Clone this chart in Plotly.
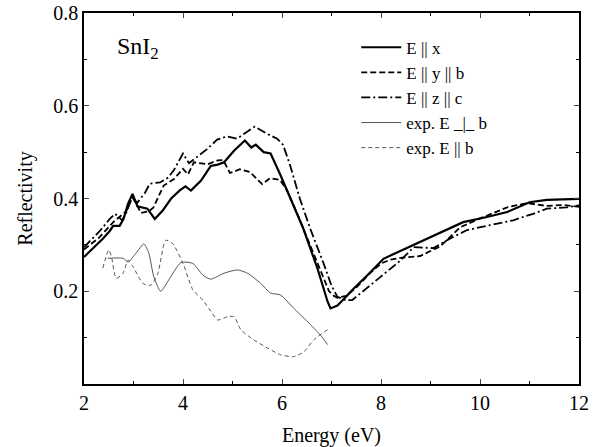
import plotly.graph_objects as go

# E || x (theory, solid)
ex_x = [2.0, 2.18, 2.38, 2.52, 2.59, 2.72, 2.8, 2.89, 2.98, 3.08, 3.28, 3.43, 3.59, 3.76, 3.94, 4.05,
        4.16, 4.36, 4.56, 4.7, 4.83, 5.03, 5.25, 5.38, 5.47, 5.63, 5.77, 5.97, 6.17, 6.42, 6.72, 6.92,
        6.98, 7.12, 7.22, 7.44, 7.72, 8.05, 8.39, 8.79, 9.2, 9.66, 10.14, 10.55, 11.0, 11.35, 12.0]
ex_y = [0.274, 0.292, 0.313, 0.33, 0.341, 0.341, 0.356, 0.389, 0.41, 0.383, 0.378, 0.356, 0.374, 0.4,
        0.418, 0.426, 0.417, 0.438, 0.47, 0.473, 0.478, 0.503, 0.525, 0.51, 0.516, 0.5, 0.497, 0.45,
        0.40, 0.338, 0.248, 0.178, 0.163, 0.169, 0.18, 0.205, 0.234, 0.27, 0.287, 0.306, 0.327, 0.349,
        0.36, 0.371, 0.392, 0.397, 0.399]

# E || y || b (theory, dashed)
ey_x = [2.0, 2.3, 2.6, 2.85, 2.98, 3.05, 3.15, 3.3, 3.4, 3.61, 3.82, 4.0, 4.1, 4.22, 4.5, 4.7, 4.81,
        4.95, 5.15, 5.35, 5.6, 5.76, 5.96, 6.1, 6.3, 6.5, 6.75, 6.95, 7.05, 7.12, 7.3, 7.52, 7.79, 8.0,
        8.19, 8.39, 8.79, 9.2, 9.6, 10.0, 10.55, 10.95, 11.35, 11.7, 12.0]
ey_y = [0.29, 0.315, 0.35, 0.372, 0.402, 0.39, 0.369, 0.372, 0.38, 0.428, 0.442, 0.464, 0.452, 0.478,
        0.474, 0.482, 0.483, 0.455, 0.463, 0.457, 0.431, 0.444, 0.44, 0.418, 0.369, 0.317, 0.255, 0.2,
        0.19, 0.186, 0.19, 0.21, 0.24, 0.26, 0.268, 0.272, 0.276, 0.297, 0.338, 0.357, 0.381, 0.39,
        0.384, 0.386, 0.382]

# E || z || c (theory, dash-dot)
ez_x = [2.0, 2.32, 2.52, 2.63, 2.77, 2.87, 2.97, 3.07, 3.23, 3.33, 3.54, 3.7, 3.82, 4.0, 4.12, 4.3,
        4.48, 4.69, 4.89, 5.09, 5.29, 5.45, 5.69, 5.9, 6.02, 6.16, 6.36, 6.57, 6.84, 7.0, 7.12, 7.28,
        7.42, 7.65, 7.99, 8.39, 8.66, 9.06, 9.4, 9.74, 10.2, 10.67, 11.07, 11.35, 11.75, 12.0]
ez_y = [0.295, 0.33, 0.356, 0.367, 0.353, 0.373, 0.405, 0.39, 0.412, 0.432, 0.435, 0.445, 0.462, 0.497,
        0.476, 0.49, 0.506, 0.527, 0.534, 0.529, 0.544, 0.555, 0.54, 0.529, 0.516, 0.473, 0.4, 0.335,
        0.26, 0.212, 0.188, 0.181, 0.181, 0.202, 0.231, 0.266, 0.295, 0.293, 0.314, 0.332, 0.342,
        0.353, 0.367, 0.378, 0.381, 0.385]

# exp. E _|_ b (thin solid)
pe_x = [2.48, 2.79, 2.89, 3.05, 3.21, 3.31, 3.41, 3.55, 3.71, 3.96, 4.2, 4.4, 4.56, 4.83, 5.1, 5.3,
        5.57, 5.77, 5.97, 6.23, 6.52, 6.78, 6.92]
pe_y = [0.271, 0.271, 0.263, 0.282, 0.302, 0.282, 0.231, 0.2, 0.224, 0.262, 0.26, 0.235, 0.226, 0.239,
        0.246, 0.239, 0.217, 0.196, 0.192, 0.164, 0.134, 0.105, 0.085]

# exp. E || b (thin dashed)
pb_x = [2.38, 2.5, 2.56, 2.65, 2.79, 2.89, 2.99, 3.19, 3.35, 3.49, 3.65, 3.79, 4.0, 4.2, 4.4, 4.56,
        4.7, 4.9, 5.03, 5.17, 5.43, 5.7, 5.97, 6.23, 6.44, 6.64, 6.92]
pb_y = [0.25, 0.289, 0.272, 0.228, 0.239, 0.267, 0.253, 0.217, 0.213, 0.238, 0.31, 0.303, 0.26, 0.203,
        0.181, 0.157, 0.138, 0.145, 0.145, 0.117, 0.095, 0.078, 0.063, 0.059, 0.069, 0.095, 0.117]

x_ticks = [2, 4, 6, 8, 10, 12]
y_ticks = [0.2, 0.4, 0.6, 0.8]
y_labels = ["0.2", "0.4", "0.6", "0.8"]

FONT = "Liberation Serif, Times New Roman, serif"

fig = go.Figure()
fig.add_trace(go.Scatter(x=ex_x, y=ex_y, mode="lines", name="E || x",
                         line=dict(color="black", width=2.2)))
fig.add_trace(go.Scatter(x=ey_x, y=ey_y, mode="lines", name="E || y || b",
                         line=dict(color="black", width=1.8, dash="6px,3px")))
fig.add_trace(go.Scatter(x=ez_x, y=ez_y, mode="lines", name="E || z || c",
                         line=dict(color="black", width=1.8, dash="9px,3px,2px,3px")))
fig.add_trace(go.Scatter(x=pe_x, y=pe_y, mode="lines", name="exp. E _|_ b",
                         line=dict(color="#555555", width=1, shape="spline", smoothing=0.6)))
fig.add_trace(go.Scatter(x=pb_x, y=pb_y, mode="lines", name="exp. E || b",
                         line=dict(color="#555555", width=1, dash="4px,3px", shape="spline", smoothing=0.6)))

fig.add_annotation(text="SnI<sub>2</sub>", xref="paper", yref="paper", x=0.062, y=0.905,
                   xanchor="left", yanchor="middle", showarrow=False,
                   font=dict(family=FONT, size=24, color="black"))

fig.update_layout(
    width=599, height=447,
    margin=dict(l=84, r=20, t=13, b=63),
    paper_bgcolor="white", plot_bgcolor="white",
    font=dict(family=FONT, size=19, color="black"),
    showlegend=True,
    legend=dict(x=0.55, y=0.955, xanchor="left", yanchor="top",
                bgcolor="rgba(0,0,0,0)", font=dict(family=FONT, size=17, color="black"),
                tracegroupgap=0, itemwidth=40),
)
fig.update_xaxes(
    range=[2, 12], tickvals=x_ticks, ticks="inside", ticklen=5, tickwidth=1,
    showline=True, linecolor="black", linewidth=1.6, mirror="allticks",
    showgrid=False, zeroline=False, automargin=False, ticklabeloverflow="allow",
    minor=dict(ticks="inside", tickmode="linear", tick0=0, dtick=1, ticklen=3, tickcolor="black"),
    title=dict(text="Energy (eV)", font=dict(family=FONT, size=20), standoff=16),
    tickfont=dict(family=FONT, size=20),
)
fig.update_yaxes(
    range=[0, 0.8], tickvals=y_ticks, ticktext=y_labels, ticks="inside", ticklen=5, tickwidth=1,
    showline=True, linecolor="black", linewidth=1.6, mirror="allticks",
    showgrid=False, zeroline=False, automargin=False, ticklabeloverflow="allow",
    minor=dict(ticks="inside", tickmode="linear", tick0=0, dtick=0.1, ticklen=3, tickcolor="black"),
    title=dict(text="Reflectivity", font=dict(family=FONT, size=20), standoff=15),
    tickfont=dict(family=FONT, size=20),
)

# remove the browser's default 8px body margin so the figure sits at the page origin
fig.write_html("out.html", config={"displayModeBar": False},
               post_script="document.body.style.margin='0';")
